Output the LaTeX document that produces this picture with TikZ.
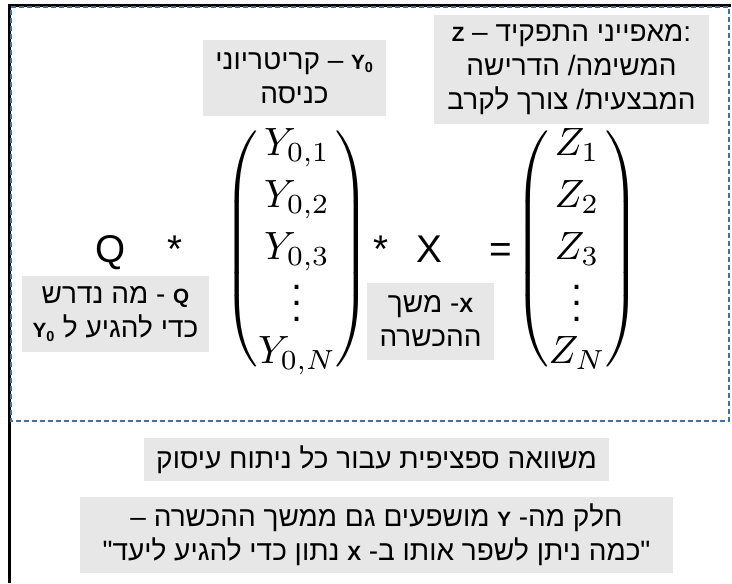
\documentclass[tikz,border=0pt]{standalone}
\usepackage{xcolor}
\usepackage{amsmath}
\usepackage[no-math]{fontspec}
\setmainfont{Liberation Sans}
\newfontfamily\hebfont[Script=Hebrew]{Liberation Sans}
\TeXXeTstate=1
\definecolor{lblgray}{RGB}{231,231,231}
\definecolor{dashblue}{RGB}{65,113,156}
\newcommand{\vdotsrow}{\smash{\raisebox{-2.5pt}{$\vdots$}}}
\newcommand{\lat}[1]{{\fontsize{15.5}{15.5}\selectfont\bfseries #1}}

\begin{document}
\begin{tikzpicture}[x=0.75pt,y=0.75pt,yscale=-1,xscale=1,
  lbl/.style={fill=lblgray, inner sep=0pt, align=center, font=\hebfont\fontsize{21}{25.5}\selectfont},
  sym/.style={anchor=base, inner sep=0pt, font=\fontsize{29}{35}\selectfont},
  vec/.style={inner sep=0pt, scale=2.96}]
\useasboundingbox (0,0) rectangle (732,583);

%Shape: Frame
\draw [line width=2.25pt] (731,5) -- (9,5) -- (9,583) ;
%Shape: Rectangle
\draw [color=dashblue, line width=1.1pt, dash pattern=on 3.75pt off 2.25pt] (11,7) -- (729,7) -- (729,421) -- (11,421) -- cycle ;

% Equation
\node [sym] (q) at (111,262) {Q};
\node [sym] (star1) at (175,262) {*};
\node [vec] (yvec) at (297,249) {$\delimitershortfall=6pt\renewcommand{\arraystretch}{1.1}\left(\begin{matrix} Y_{0,1}\\ Y_{0,2}\\ Y_{0,3}\\ \vdotsrow\\ Y_{0,N}\end{matrix}\right)$};
\node [sym] (star2) at (381,262) {*};
\node [sym] (x) at (429,262) {X};
\node [sym] (eq) at (501,262) {=};
\node [vec] (zvec) at (577,249) {$\delimitershortfall=6pt\renewcommand{\arraystretch}{1.1}\left(\begin{matrix} Z_{1}\\ Z_{2}\\ Z_{3}\\ \vdotsrow\\ Z_{N}\end{matrix}\right)$};

% Text Node
\node [lbl, minimum width=137.25pt, minimum height=57pt] (ylbl) at (294.5,78) {\beginR\beginL\lat{Y\textsubscript{0}}\endL{} – קריטריוני\endR\\\beginR כניסה\endR};
% Text Node
\node [lbl, minimum width=206.25pt, minimum height=81.75pt] (zlbl) at (571.5,69.5) {\beginL\lat{Z} – \beginR מאפייני התפקיד\endR:\endL\\\beginR המשימה/ הדרישה\endR\\\beginR המבצעית/ צורך לקרב\endR};
% Text Node
\node [lbl, minimum width=140.25pt, minimum height=57pt] (qlbl) at (115.5,314) {\beginR\lat{Q} - מה נדרש\endR\\\beginR כדי להגיע ל \beginL\lat{Y\textsubscript{0}}\endL\endR};
% Text Node
\node [lbl, minimum width=95.25pt, minimum height=57.75pt] (xlbl) at (430.5,321.5) {\beginR\lat{X}- משך\endR\\\beginR ההכשרה\endR};
% Text Node
\node [lbl, minimum width=348.75pt, minimum height=32.25pt] (note1) at (376.5,459.5) {\beginR משוואה ספציפית עבור כל ניתוח עיסוק\endR};
% Text Node
\node [lbl, minimum width=444.75pt, minimum height=57pt] (note2) at (376.5,535) {\beginR חלק מה- \lat{Y} מושפעים גם ממשך ההכשרה –\endR\\\beginR "כמה ניתן לשפר אותו ב- \lat{X} נתון כדי להגיע ליעד"\endR};

\end{tikzpicture}
\end{document}
